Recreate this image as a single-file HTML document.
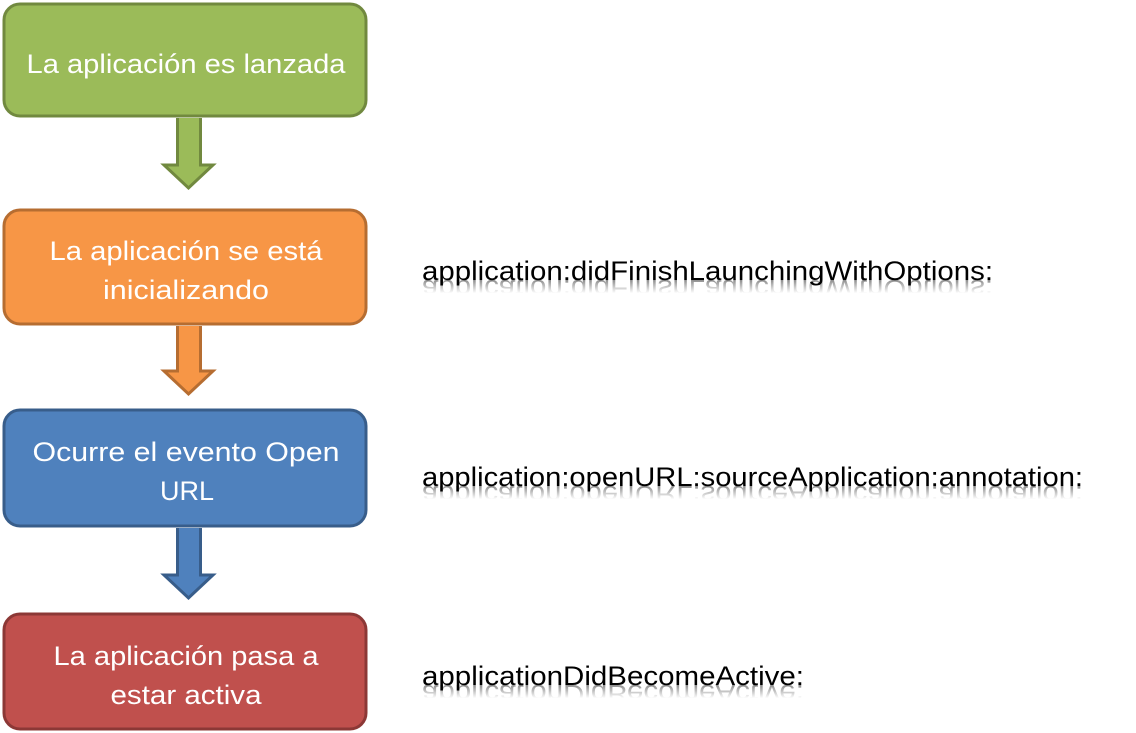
<!DOCTYPE html>
<html><head><meta charset="utf-8"><style>html,body{margin:0;padding:0;background:#fff;width:1136px;height:733px;overflow:hidden}</style></head>
<body>
<svg width="1136" height="733" xmlns="http://www.w3.org/2000/svg">
<defs>
<linearGradient id="fade" x1="0" y1="0" x2="0" y2="1">
<stop offset="0" stop-color="#fff" stop-opacity="0.45"/>
<stop offset="0.6" stop-color="#fff" stop-opacity="0"/>
</linearGradient>
<mask id="m1" maskUnits="userSpaceOnUse" x="0" y="0" width="1136" height="733"><rect x="400" y="280" width="736" height="22" fill="url(#fade)"/></mask>
<mask id="m2" maskUnits="userSpaceOnUse" x="0" y="0" width="1136" height="733"><rect x="400" y="486" width="736" height="22" fill="url(#fade)"/></mask>
<mask id="m3" maskUnits="userSpaceOnUse" x="0" y="0" width="1136" height="733"><rect x="400" y="685" width="736" height="22" fill="url(#fade)"/></mask>
</defs>
<g stroke-width="3">
<rect x="4" y="4" width="362" height="112" rx="16" fill="#9bbb59" stroke="#71893f"/>
<rect x="4" y="210" width="362" height="114" rx="16" fill="#f79646" stroke="#b66d31"/>
<rect x="4" y="410" width="362" height="116" rx="16" fill="#4f81bd" stroke="#385d8a"/>
<rect x="4" y="614" width="362" height="115" rx="16" fill="#c0504d" stroke="#8c3836"/>
<path d="M177.5 118 V165 H164 L188.5 188 L213 165 H200.5 V118" fill="#9bbb59" stroke="#71893f"/>
<path d="M177.5 326 V371 H164 L188.5 394 L213 371 H200.5 V326" fill="#f79646" stroke="#b66d31"/>
<path d="M177.5 528 V575 H164 L188.5 598 L213 575 H200.5 V528" fill="#4f81bd" stroke="#385d8a"/>
</g>
<g font-family="Liberation Sans, sans-serif" font-size="27" fill="#fff" text-anchor="middle">
<text x="186" y="73" textLength="319" lengthAdjust="spacingAndGlyphs">La aplicación es lanzada</text>
<text x="186" y="260" textLength="273" lengthAdjust="spacingAndGlyphs">La aplicación se está</text>
<text x="186" y="299" textLength="166" lengthAdjust="spacingAndGlyphs">inicializando</text>
<text x="186" y="461" textLength="307" lengthAdjust="spacingAndGlyphs">Ocurre el evento Open</text>
<text x="187" y="500">URL</text>
<text x="186" y="665" textLength="265" lengthAdjust="spacingAndGlyphs">La aplicación pasa a</text>
<text x="186" y="704" textLength="151" lengthAdjust="spacingAndGlyphs">estar activa</text>
</g>
<g font-family="Liberation Sans, sans-serif" font-size="27" fill="#000">
<text x="422" y="280" textLength="571" lengthAdjust="spacingAndGlyphs">application:didFinishLaunchingWithOptions:</text>
<text x="422" y="486" textLength="661" lengthAdjust="spacingAndGlyphs">application:openURL:sourceApplication:annotation:</text>
<text x="422" y="685" textLength="382" lengthAdjust="spacingAndGlyphs">applicationDidBecomeActive:</text>
<g mask="url(#m1)"><text x="422" y="280" transform="translate(0,560) scale(1,-1)" textLength="571" lengthAdjust="spacingAndGlyphs">application:didFinishLaunchingWithOptions:</text></g>
<g mask="url(#m2)"><text x="422" y="486" transform="translate(0,972) scale(1,-1)" textLength="661" lengthAdjust="spacingAndGlyphs">application:openURL:sourceApplication:annotation:</text></g>
<g mask="url(#m3)"><text x="422" y="685" transform="translate(0,1370) scale(1,-1)" textLength="382" lengthAdjust="spacingAndGlyphs">applicationDidBecomeActive:</text></g>
</g>
</svg>
</body></html>
